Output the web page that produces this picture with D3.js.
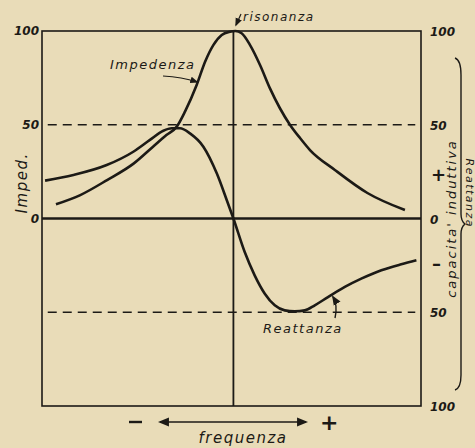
<!DOCTYPE html>
<html>
<head>
  <style>
    body { margin: 0; background: #e9dcb8; }
    svg text { font-family: "DejaVu Sans", sans-serif; font-style: italic; fill: #1c1a16; }
    .num { font-weight: bold; font-size: 12px; }
    .lbl { font-size: 13px; letter-spacing: 1.5px; }
  </style>
</head>
<body>
  <svg id="chart" width="475" height="448"></svg>
  <script src="https://d3js.org/d3.v7.min.js"></script>
  <script>
    // frequency (relative), values
    const impFreq = [-92.7, -80, -66, -52, -42, -35, -29.6, -25.3, -19.2, -14.8, -10.5, -6.1, -1.8, 1, 4.3, 8.7, 13.9, 19.1, 24.3, 29.6, 34.8, 40, 53, 70, 89.6];
    const impVals = [7.6, 12.5, 20.5, 29.4, 38.3, 44.5, 49, 57, 71.2, 83.6, 92.5, 97.9, 99.6, 100, 98.8, 92.5, 81.9, 69.4, 58.8, 49.9, 42.9, 36.5, 25.9, 13.6, 4.5];
    const reaFreq = [-98.4, -83.6, -66.2, -52.3, -43.6, -36.6, -32.2, -27.9, -22.7, -15.7, -8.7, -3.5, 0, 5.9, 11.1, 16.4, 21.6, 26.8, 32, 37.3, 42.5, 49.4, 58.2, 66.8, 77.3, 87.7, 95.6];
    const reaVals = [20.2, 23.2, 28.5, 35.6, 41.9, 46.8, 48.1, 48.1, 45.4, 38.3, 24.1, 9.9, 0, -17.9, -30.3, -40.1, -46.3, -49, -49.5, -49, -46.3, -41.9, -36.5, -32.1, -27.6, -24.4, -22.3];
    const leftTicks = [100, 50, 0];
    const rightTicks = [100, 50, 0, -50, -100];
    const guides = [50, -50];

    const svg = d3.select('#chart');
    const x = d3.scaleLinear().domain([-100, 98]).range([42, 421]);
    const y = d3.scaleLinear().domain([-100, 100]).range([406, 31]);
    const ink = '#1c1a16';

    const defs = svg.append('defs');
    defs.append('marker').attr('id', 'ah').attr('viewBox', '0 0 10 10')
      .attr('refX', 8).attr('refY', 5).attr('markerWidth', 7).attr('markerHeight', 7)
      .attr('orient', 'auto-start-reverse')
      .append('path').attr('d', 'M0,1 L10,5 L0,9 Z').attr('fill', ink);

    // frame
    svg.append('rect')
      .attr('x', x(-100)).attr('y', y(100))
      .attr('width', x(98) - x(-100)).attr('height', y(-100) - y(100))
      .attr('fill', 'none').attr('stroke', ink).attr('stroke-width', 1.6);

    // dashed guides at +-50
    svg.selectAll('.guide').data(guides).enter().append('line')
      .attr('x1', x(-97)).attr('x2', x(95))
      .attr('y1', d => y(d)).attr('y2', d => y(d))
      .attr('stroke', ink).attr('stroke-width', 1.4)
      .attr('stroke-dasharray', '9,6');

    // zero line and resonance line
    svg.append('line').attr('x1', x(-100)).attr('x2', x(98))
      .attr('y1', y(0)).attr('y2', y(0))
      .attr('stroke', ink).attr('stroke-width', 2.6);
    svg.append('line').attr('x1', x(0)).attr('x2', x(0))
      .attr('y1', y(100)).attr('y2', y(-100))
      .attr('stroke', ink).attr('stroke-width', 1.8);

    // curves
    const line = d3.line().curve(d3.curveMonotoneX);
    svg.append('path')
      .attr('d', line(impFreq.map((f, i) => [x(f), y(impVals[i])])))
      .attr('fill', 'none').attr('stroke', ink).attr('stroke-width', 2.6);
    svg.append('path')
      .attr('d', line(reaFreq.map((f, i) => [x(f), y(reaVals[i])])))
      .attr('fill', 'none').attr('stroke', ink).attr('stroke-width', 2.6);

    // left tick labels
    svg.selectAll('.lt').data(leftTicks).enter().append('text')
      .attr('class', 'num').attr('text-anchor', 'end')
      .attr('x', 39).attr('y', d => y(d) + 4)
      .text(d => d);

    // right tick labels
    svg.selectAll('.rt').data(rightTicks).enter().append('text')
      .attr('class', 'num')
      .attr('x', 430).attr('y', d => y(d) + 5)
      .text(d => Math.abs(d));
    svg.append('text').attr('x', 431).attr('y', y(23) + 6)
      .attr('font-size', 18).attr('font-weight', 'bold').style('font-style', 'normal').text('+');
    svg.append('text').attr('x', 432).attr('y', y(-24) + 6)
      .attr('font-size', 18).attr('font-weight', 'bold').style('font-style', 'normal').text('\u2013');

    // axis titles
    svg.append('text').attr('class', 'lbl').style('font-size', '15px')
      .attr('transform', 'translate(27,' + y(19) + ') rotate(-90)')
      .attr('text-anchor', 'middle').text('Imped.');
    svg.append('text').attr('class', 'lbl').style('font-size', '13px').style('letter-spacing', '2px')
      .attr('transform', 'translate(456,' + y(0) + ') rotate(-90)')
      .attr('text-anchor', 'middle').text("capacita' induttiva");
    svg.append('text').attr('class', 'lbl').style('font-size', '11px')
      .attr('transform', 'translate(466,' + y(32) + ') rotate(90)')
      .text('Reattanza');
    svg.append('path')
      .attr('d', 'M455,58 Q461,60 461,75 L461,214 Q461,221 465,224 Q461,227 461,234 L461,375 Q461,388 455,390')
      .attr('fill', 'none').attr('stroke', ink).attr('stroke-width', 1.4);

    // annotations
    svg.append('text').attr('class', 'lbl').attr('x', 110).attr('y', 69).text('Impedenza');
    svg.append('path').attr('d', 'M163,76 Q182,77 197,82')
      .attr('fill', 'none').attr('stroke', ink).attr('stroke-width', 1.2).attr('marker-end', 'url(#ah)');
    svg.append('text').attr('class', 'lbl').style('font-size', '12px').attr('x', 243).attr('y', 21).text('risonanza');
    svg.append('path').attr('d', 'M241,14 L236,25')
      .attr('fill', 'none').attr('stroke', ink).attr('stroke-width', 1.2).attr('marker-end', 'url(#ah)');
    svg.append('text').attr('class', 'lbl').attr('x', 263).attr('y', 333).text('Reattanza');
    svg.append('path').attr('d', 'M335,318 Q338,305 333,297')
      .attr('fill', 'none').attr('stroke', ink).attr('stroke-width', 1.4).attr('marker-end', 'url(#ah)');

    // frequency arrow
    svg.append('line').attr('x1', 129).attr('x2', 142).attr('y1', 422).attr('y2', 422)
      .attr('stroke', ink).attr('stroke-width', 2.4);
    svg.append('line').attr('x1', 160).attr('x2', 306).attr('y1', 422).attr('y2', 422)
      .attr('stroke', ink).attr('stroke-width', 1.6)
      .attr('marker-start', 'url(#ah)').attr('marker-end', 'url(#ah)');
    svg.append('text').attr('x', 320).attr('y', 430)
      .attr('font-size', 22).attr('font-weight', 'bold').style('font-style', 'normal').text('+');
    svg.append('text').attr('class', 'lbl').style('font-size', '15px')
      .attr('x', 243).attr('y', 443).attr('text-anchor', 'middle').text('frequenza');
  </script>
</body>
</html>
